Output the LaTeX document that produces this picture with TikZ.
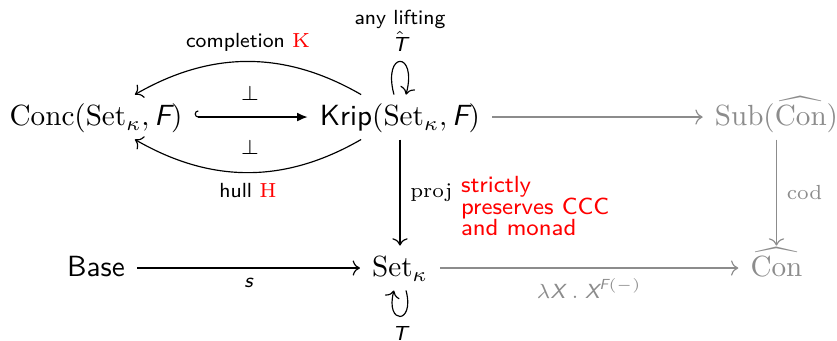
\documentclass[tikz,border=0pt]{standalone}
\usepackage{amsmath,amssymb}
\usetikzlibrary{arrows.meta}
\newcommand{\sv}[1]{\textsf{\itshape #1}}
\newcommand{\notefont}{\fontsize{8}{7.4}\selectfont\sffamily}
\colorlet{faded}{black!45}

\begin{document}
\begin{tikzpicture}[
    obj/.style={text height=7.5pt, text depth=1.5pt, inner xsep=4pt, inner ysep=3pt},
    lab/.style={font=\scriptsize\sffamily},
    note/.style={font=\notefont, red, align=left}
    ]
    \useasboundingbox (0,0) rectangle (10.084,-4.108);

    % --- Objects ---
    \node[obj] (conc) at (1.157,-1.410) {$\mathrm{Conc}(\mathrm{Set}_\kappa, \sv{F})$};
    \node[obj] (krip) at (4.819,-1.410) {\textsf{Krip}$(\mathrm{Set}_\kappa, \sv{F})$};
    \node[obj, faded] (sub) at (9.355,-1.410) {$\mathrm{Sub}(\widehat{\mathrm{Con}})$};
    \node[obj] (base) at (1.157,-3.229) {\textsf{Base}};
    \node[obj] (set) at (4.819,-3.229) {$\mathrm{Set}_\kappa$};
    \node[obj, faded] (con) at (9.355,-3.229) {$\widehat{\mathrm{Con}}$};

    % --- Adjunctions between Conc and Krip ---
    \draw[{Hooks[right]}-{Latex[length=3.6pt,width=3pt]}] (conc) -- (krip);
    \draw[->] (krip) to[bend right=30] node[lab, above] (compl) {completion $\textcolor{red}{\mathrm{K}}$} (conc);
    \draw[->] (krip) to[bend left=30] node[lab, below] (hull) {hull $\textcolor{red}{\mathrm{H}}$} (conc);
    \node[lab] (perpA) at (3.012,-1.120) {$\perp$};
    \node[lab] (perpB) at (3.012,-1.771) {$\perp$};

    % --- Monads drawn as loops ---
    \path (krip) edge[->, loop above, min distance=5.5mm] node[lab, above, align=center] (lift) {any lifting\\$\hat{\sv{T}}$} (krip);
    \path (set) edge[->, loop below, min distance=4.3mm] node[lab, below] (tlab) {$\sv{T}$} (set);

    % --- Remaining arrows ---
    \draw[->] (krip) -- node[lab, right] (proj) {$\mathrm{proj}$} (set);
    \node[note, anchor=west] (strict) at (5.43,-2.482) {strictly\\preserves CCC\\and monad};
    \draw[->, faded] (krip) -- (sub);
    \draw[->, faded] (sub) -- node[lab, right] (cod) {$\mathrm{cod}$} (con);
    \draw[->] (base) -- node[lab, below] (slab) {$\sv{s}$} (set);
    \draw[->, faded] (set) -- node[lab, below] (expo) {$\lambda \sv{X}\;.\;\sv{X}^{\sv{F}(-)}$} (con);
\end{tikzpicture}
\end{document}
